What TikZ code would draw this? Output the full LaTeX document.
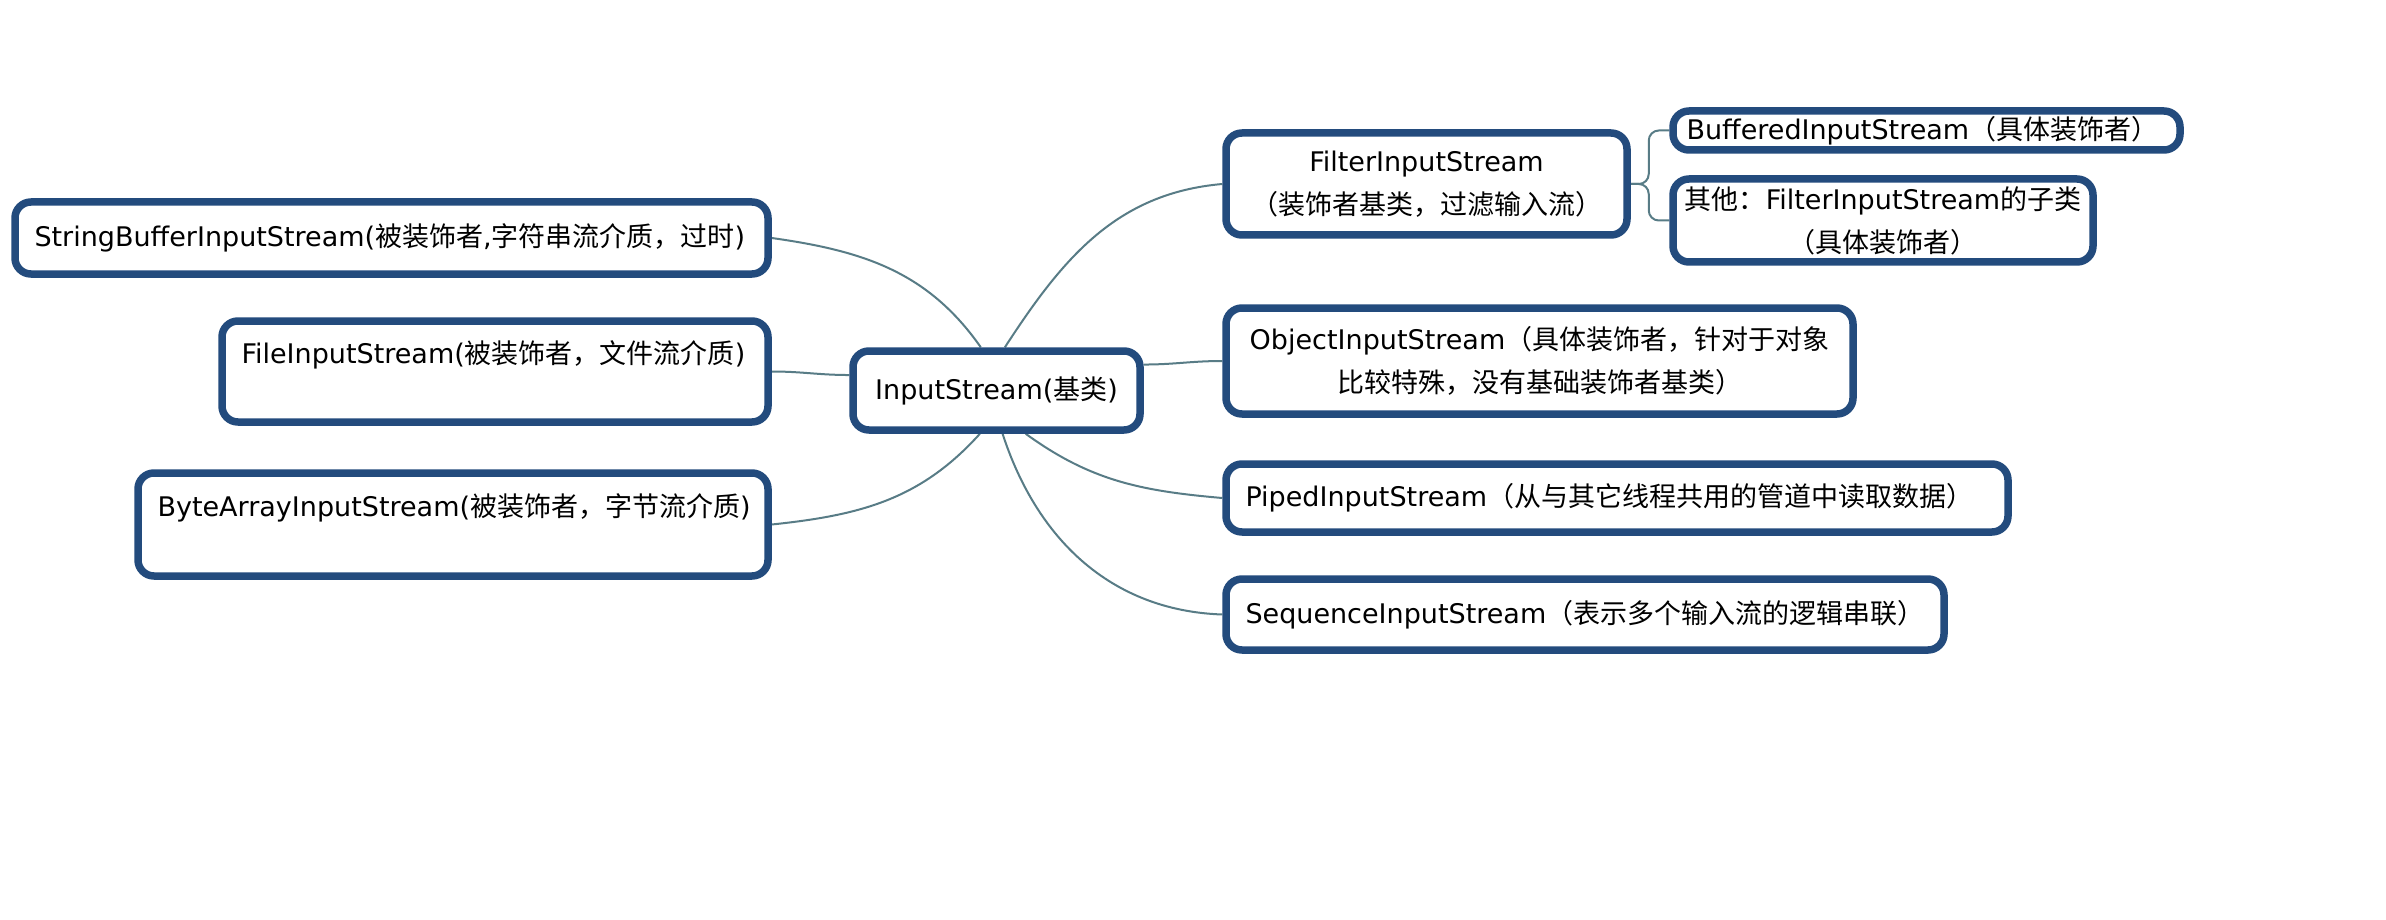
\documentclass[tikz,border=0pt]{standalone}
\usepackage{fontspec}
\setmainfont{DejaVu Sans}
\newfontfamily\zhfont{Noto Sans CJK SC}
\newcommand\zh[1]{{\zhfont #1}}
\usetikzlibrary{backgrounds}
\definecolor{boxblue}{RGB}{35,75,125}
\definecolor{linkc}{RGB}{88,124,134}
\begin{document}
\begin{tikzpicture}[x=1pt,y=-1pt,
  box/.style={draw=boxblue, line width=7.5pt, rounded corners=16pt, fill=white,
    inner sep=0pt, font=\fontsize{27}{43}\selectfont},
  conn/.style={draw=linkc, line width=2pt}]
\useasboundingbox (0,0) rectangle (2386,920);

\node[box, minimum width=753pt, minimum height=72pt, text width=714pt, align=left] (sb) at (391.5,238)
  {StringBufferInputStream(\zh{被装饰者},\zh{字符串流介质，过时})};
\node[box, minimum width=546pt, minimum height=101pt, text width=507pt, align=left, text depth=38pt] (file) at (495,371.5)
  {FileInputStream(\zh{被装饰者，文件流介质})};
\node[box, minimum width=630pt, minimum height=103pt, text width=591pt, align=left, text depth=38pt] (byte) at (453,524.5)
  {ByteArrayInputStream(\zh{被装饰者，字节流介质})};
\node[box, minimum width=287pt, minimum height=79pt, align=center] (c) at (996.5,390.5)
  {InputStream(\zh{基类})};
\node[box, minimum width=401pt, minimum height=102pt, align=center] (filter) at (1426.5,184)
  {FilterInputStream\\\zh{（装饰者基类，过滤输入流）}};
\node[box, minimum width=507pt, minimum height=39pt, text width=480pt, align=left] (buf) at (1926.5,130.5)
  {BufferedInputStream\zh{（具体装饰者）}};
\node[box, minimum width=420pt, minimum height=83pt, align=center] (oth) at (1883,220.5)
  {\zh{其他：}FilterInputStream\zh{的子类}\\\zh{（具体装饰者）}};
\node[box, minimum width=627pt, minimum height=106pt, align=center] (obj) at (1539.5,361)
  {ObjectInputStream\zh{（具体装饰者，针对于对象}\\\zh{比较特殊，没有基础装饰者基类）}};
\node[box, minimum width=782pt, minimum height=68pt, text width=743pt, align=left] (pip) at (1617,498)
  {PipedInputStream\zh{（从与其它线程共用的管道中读取数据）}};
\node[box, minimum width=718pt, minimum height=71pt, text width=679pt, align=left] (seq) at (1585,614.5)
  {SequenceInputStream\zh{（表示多个输入流的逻辑串联）}};

\begin{pgfonlayer}{background}
\fill[white] (0,0) rectangle (2386,920);
\draw[conn] (c.110) to[out=125,in=-8] (sb.east);
\draw[conn] (c.174) to[out=180,in=0] (file.east);
\draw[conn] (c.249) to[out=228,in=6] (byte.east);
\draw[conn] (c.79) to[out=57,in=185] (filter.west);
\draw[conn] (c.10) to[out=0,in=180] (obj.west);
\draw[conn] (c.304) to[out=-36,in=175] (pip.west);
\draw[conn] (c.278) to[out=-72,in=178] (seq.west);
\draw[conn, rounded corners=10pt] (filter.east) -- ++(18,0) |- (buf.west);
\draw[conn, rounded corners=10pt] (filter.east) -- ++(18,0) |- (oth.west);
\end{pgfonlayer}
\end{tikzpicture}
\end{document}
